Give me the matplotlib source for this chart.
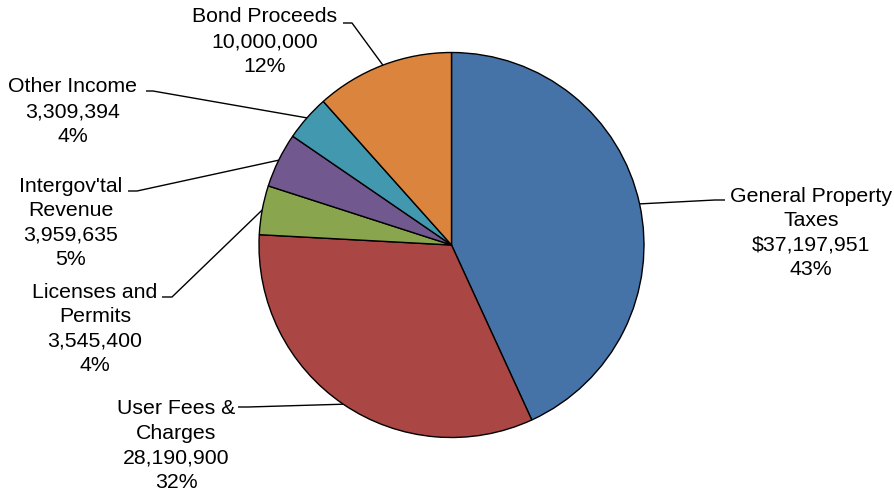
import numpy as np
import matplotlib.pyplot as plt

plt.rcParams['font.family'] = ['Liberation Sans', 'DejaVu Sans']

# data
names = ['General Property\nTaxes', 'User Fees &\nCharges', 'Licenses and\nPermits',
         "Intergov'tal\nRevenue", 'Other Income', 'Bond Proceeds']
amounts = [37197951, 28190900, 3545400, 3959635, 3309394, 10000000]
amount_labels = ['$37,197,951', '28,190,900', '3,545,400', '3,959,635', '3,309,394', '10,000,000']
pct_labels = ['43%', '32%', '4%', '5%', '4%', '12%']
colors = ['#4572A7', '#AA4643', '#89A54E', '#71588F', '#4198AF', '#DB843D']

# layout (pixel coords, y from top); text_pos = centre x, first baseline y
W, H = 895, 493
cx, cy, r = 451.5, 245, 192.5
line_gap = 24.6
text_pos = [(811, 201.5), (176, 414.5), (95, 297.5), (71, 191.5), (73, 92.5), (265, 22.5)]
elbows = [[(725, 200), (715, 200)], [(238, 407), (248, 407)], [(162, 297), (172, 297)],
          [(128, 191), (137, 191)], [(146, 91), (153, 91)], [(343, 23), (352, 23)]]

fig = plt.figure(figsize=(W / 100, H / 100), dpi=100)
ax = fig.add_axes([0, 0, 1, 1])

wedges, _ = ax.pie(amounts, colors=colors, startangle=90, counterclock=False,
                   center=(cx, H - cy), radius=r,
                   wedgeprops=dict(edgecolor='black', linewidth=1.0))
ax.set_xlim(0, W)
ax.set_ylim(0, H)
ax.set_aspect('equal')
ax.axis('off')

for i, w in enumerate(wedges):
    # leader line: label elbow -> middle of the wedge's arc
    mid = np.deg2rad((w.theta1 + w.theta2) / 2)
    ex = cx + r * np.cos(mid)
    ey = (H - cy) + r * np.sin(mid)
    pts = elbows[i] + [(ex, H - ey)]
    ax.plot([p[0] for p in pts], [H - p[1] for p in pts], color='black', lw=1.0,
            solid_capstyle='butt', zorder=0)
    lines = names[i].split('\n') + [amount_labels[i], pct_labels[i]]
    tx, ty = text_pos[i]
    for k, s in enumerate(lines):
        ax.text(tx, H - (ty + k * line_gap), s, ha='center', va='baseline',
                fontsize=15.3, color='black')

fig.savefig('out.png', dpi=100)
